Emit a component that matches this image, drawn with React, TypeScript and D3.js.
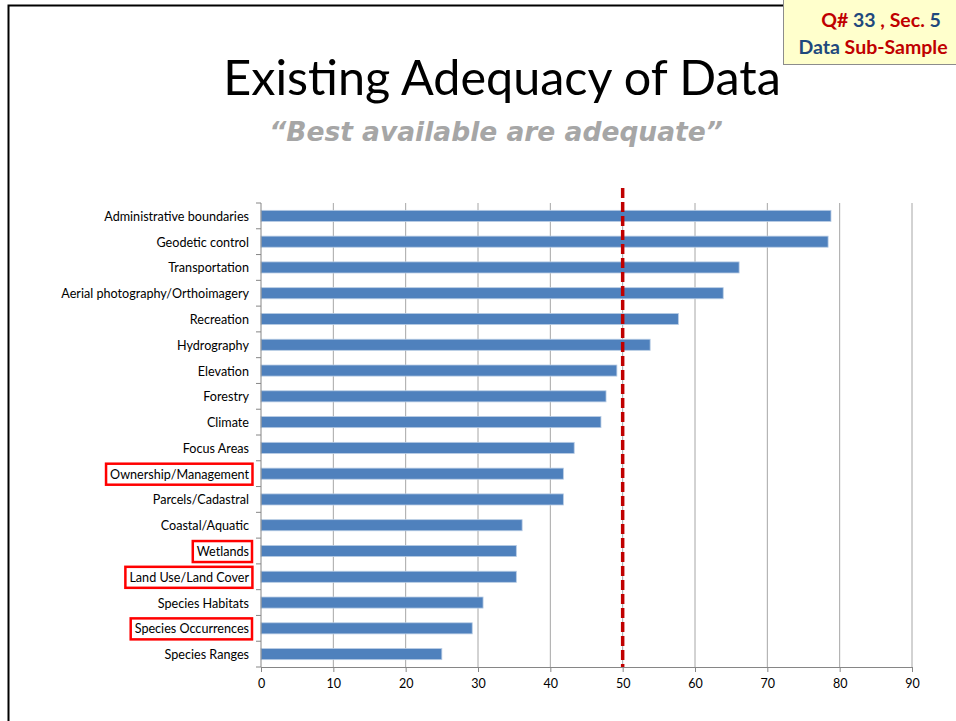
import React, { useRef, useEffect } from 'react';
import * as d3 from 'd3';

const categories = [
  'Administrative boundaries',
  'Geodetic control',
  'Transportation',
  'Aerial photography/Orthoimagery',
  'Recreation',
  'Hydrography',
  'Elevation',
  'Forestry',
  'Climate',
  'Focus Areas',
  'Ownership/Management',
  'Parcels/Cadastral',
  'Coastal/Aquatic',
  'Wetlands',
  'Land Use/Land Cover',
  'Species Habitats',
  'Species Occurrences',
  'Species Ranges',
];
const values = [78.8, 78.4, 66.1, 63.9, 57.7, 53.8, 49.2, 47.7, 47.0, 43.3, 41.8, 41.8, 36.1, 35.3, 35.3, 30.7, 29.2, 25.0];
const highlighted = ['Ownership/Management', 'Wetlands', 'Land Use/Land Cover', 'Species Occurrences'];
const xTicks = [0, 10, 20, 30, 40, 50, 60, 70, 80, 90];
const threshold = 50;

const RED = '#c00000';
const BLUE = '#1f497d';
const FONT = 'Lato, "Open Sans", sans-serif';

export default function App() {
  const svgRef = useRef<SVGSVGElement>(null);

  useEffect(() => {
    const svg = d3.select(svgRef.current);
    svg.selectAll('*').remove();

    const width = 956;
    const height = 721;
    const left = 261;
    const right = 912;
    const top = 203;
    const bottom = 667;

    svg.append('rect').attr('width', width).attr('height', height).attr('fill', '#fff');

    // slide frame
    svg.append('path')
      .attr('d', `M8.5,${height + 2}V5.5H${width + 2}`)
      .attr('fill', 'none')
      .attr('stroke', '#000')
      .attr('stroke-width', 2);

    // section badge
    const badge = svg.append('g');
    badge.append('rect')
      .attr('x', 783.5).attr('y', -1).attr('width', 180).attr('height', 65.5)
      .attr('fill', '#ffffcc').attr('stroke', '#8c8c8c').attr('stroke-width', 1);
    const l1 = badge.append('text')
      .attr('x', 881).attr('y', 27).attr('text-anchor', 'middle')
      .attr('font-family', FONT).attr('font-weight', 'bold').attr('font-size', 19.5);
    l1.append('tspan').attr('fill', RED).text('Q# ');
    l1.append('tspan').attr('fill', BLUE).text('33');
    l1.append('tspan').attr('fill', RED).text(' , Sec. ');
    l1.append('tspan').attr('fill', BLUE).text('5');
    const l2 = badge.append('text')
      .attr('x', 873).attr('y', 54).attr('text-anchor', 'middle')
      .attr('font-family', FONT).attr('font-weight', 'bold').attr('font-size', 19.5);
    l2.append('tspan').attr('fill', BLUE).text('Data ');
    l2.append('tspan').attr('fill', RED).text('Sub-Sample');

    // titles
    svg.append('text')
      .attr('x', 502).attr('y', 95).attr('text-anchor', 'middle')
      .attr('font-family', FONT).attr('font-size', 48.5).attr('fill', '#000')
      .text('Existing Adequacy of Data');
    svg.append('text')
      .attr('x', 496).attr('y', 141).attr('text-anchor', 'middle')
      .attr('font-family', '"DejaVu Sans", Verdana, sans-serif').attr('font-size', 26.5)
      .attr('font-style', 'oblique')
      .attr('font-weight', 'bold').attr('fill', '#a6a6a6')
      .text('\u201cBest available are adequate\u201d');

    const x = d3.scaleLinear().domain([0, 90]).range([left, right]);
    const y = d3.scaleBand().domain(categories).range([top, bottom]).paddingInner(0.57).paddingOuter(0.285);

    // gridlines
    svg.append('g').selectAll('line')
      .data(xTicks.filter(t => t > 0))
      .join('line')
      .attr('x1', d => x(d)).attr('x2', d => x(d))
      .attr('y1', top).attr('y2', bottom)
      .attr('stroke', '#a6a6a6').attr('stroke-width', 1);

    // bars
    svg.append('g').selectAll('rect')
      .data(values)
      .join('rect')
      .attr('x', x(0))
      .attr('y', (d, i) => y(categories[i])!)
      .attr('width', d => x(d) - x(0))
      .attr('height', y.bandwidth())
      .attr('fill', '#4f81bd')
      .attr('stroke', '#b8cce4')
      .attr('stroke-width', 0.8);

    // x axis
    const xAxis = svg.append('g')
      .attr('transform', `translate(0,${bottom})`)
      .call(d3.axisBottom(x).tickValues(xTicks).tickSize(5).tickPadding(7));
    xAxis.select('.domain').attr('stroke', '#868686');
    xAxis.selectAll('.tick line').attr('stroke', '#868686');
    xAxis.selectAll('.tick text')
      .attr('font-family', FONT).attr('font-size', 12.5).attr('fill', '#000');

    // y axis
    const step = y.step();
    const yg = svg.append('g');
    yg.append('line')
      .attr('x1', left).attr('x2', left).attr('y1', top).attr('y2', bottom)
      .attr('stroke', '#868686');
    yg.selectAll('line.tk')
      .data(d3.range(categories.length + 1))
      .join('line')
      .attr('class', 'tk')
      .attr('x1', left - 5).attr('x2', left)
      .attr('y1', i => top + i * step).attr('y2', i => top + i * step)
      .attr('stroke', '#868686');

    const labels = yg.selectAll('text')
      .data(categories)
      .join('text')
      .attr('x', left - 12)
      .attr('y', d => y(d)! + y.bandwidth() / 2)
      .attr('dy', '0.4em')
      .attr('text-anchor', 'end')
      .attr('font-family', FONT).attr('font-size', 12.6).attr('fill', '#000')
      .text(d => d);

    // red highlight boxes
    labels.filter(d => highlighted.includes(d)).each(function () {
      const b = (this as SVGTextElement).getBBox();
      yg.append('rect')
        .attr('x', b.x - 4).attr('y', b.y - 3)
        .attr('width', b.width + 7).attr('height', b.height + 6)
        .attr('fill', 'none').attr('stroke', '#ff0000').attr('stroke-width', 2.5);
    });

    // threshold line
    svg.append('line')
      .attr('x1', x(threshold)).attr('x2', x(threshold))
      .attr('y1', 188).attr('y2', bottom)
      .attr('stroke', RED).attr('stroke-width', 3.5)
      .attr('stroke-dasharray', '10 4');
  }, []);

  return (
    <svg
      ref={svgRef}
      width={956}
      height={721}
      style={{ position: 'absolute', left: 0, top: 0, display: 'block' }}
    />
  );
}
